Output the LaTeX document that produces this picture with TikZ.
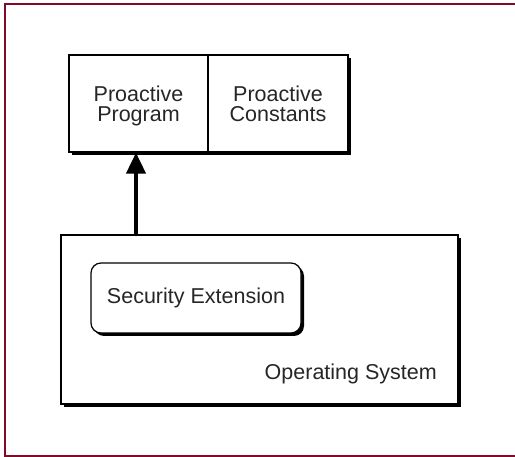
\documentclass[tikz,border=0pt]{standalone}
\usepackage{fontspec}
\setmainfont{Liberation Sans}
\usetikzlibrary{arrows.meta,shadows}
\definecolor{borderred}{RGB}{130,10,40}
\begin{document}
\begin{tikzpicture}[x=1pt,y=1pt,
  box/.style={draw=black, line width=1.2pt, fill=white, inner sep=0pt,
    drop shadow={shadow xshift=3pt, shadow yshift=-3pt, fill=black, opacity=1}},
  lbl/.style={font=\fontsize{21.5}{20}\selectfont, align=center, text=black!85},
  twoline/.style={text height=41pt, text depth=4.5pt},
  conn/.style={line width=4pt, -{Triangle[length=21pt,width=19pt]}},
]
\useasboundingbox (0,0) rectangle (515,-457);
\draw[borderred, line width=2pt] (515,-4.5) -- (4.5,-4.5) -- (4.5,-456.3) -- (515,-456.3);

\node[box, lbl, twoline, minimum width=139pt, minimum height=97pt] (pp) at (138.5,-103.5) {Proactive\\Program};
\node[box, lbl, twoline, minimum width=140pt, minimum height=97pt] (pc) at (278,-103.5) {Proactive\\Constants};

\node[box, minimum width=397pt, minimum height=169pt] (os) at (259.5,-319.5) {};
\node[box, lbl, rounded corners=10pt, minimum width=210pt, minimum height=70pt] (se) at (196,-298) {Security Extension};
\node[lbl, anchor=base east, inner sep=0pt] (oslbl) at (437,-380) {Operating System};

\coordinate (a1) at ([xshift=-2.5pt]pp.south);
\draw[conn] (a1 |- os.north) -- (a1);
\end{tikzpicture}
\end{document}
